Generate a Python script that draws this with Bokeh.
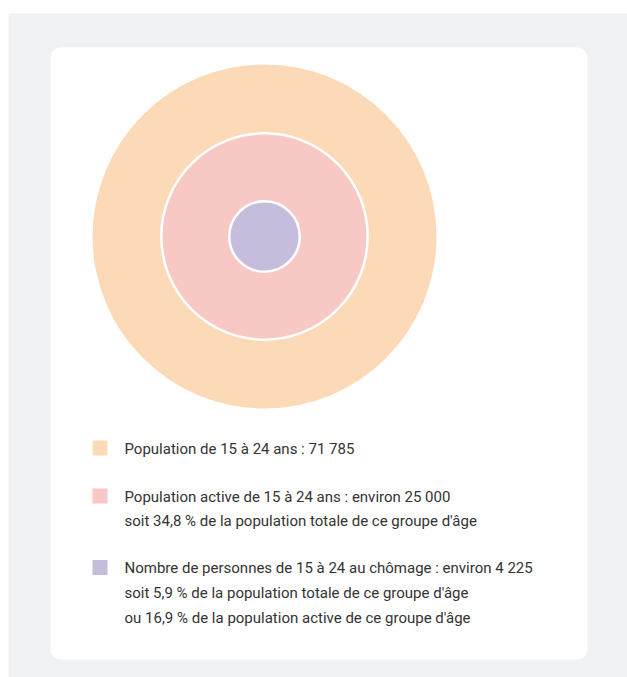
from bokeh.plotting import figure
from bokeh.models import Range1d, BoxAnnotation, ColumnDataSource
from bokeh.embed import file_html
from bokeh.resources import INLINE
from bokeh.core.properties import value

# ---- data ----
categories = ["Population de 15 à 24 ans",
              "Population active de 15 à 24 ans",
              "Chômeurs de 15 à 24 ans"]
values = [71785, 25000, 4225]
legend_labels = [
    "Population de 15 à 24 ans : 71 785",
    "Population active de 15 à 24 ans : environ 25 000\nsoit 34,8 % de la population totale de ce groupe d'âge",
    "Nombre de personnes de 15 à 24 au chômage : environ 4 225\nsoit 5,9 % de la population totale de ce groupe d'âge\nou 16,9 % de la population active de ce groupe d'âge",
]

# ---- style ----
colors = ["#FCDAB8", "#F8C8C5", "#C6BDDD"]
ring_scale = [1.0, 0.60, 0.205]   # displayed relative radius of each disc
R = 172
CX, CY = 264, 236
FONT = "Roboto"
FS = 15

W, H = 627, 677
p = figure(width=W, height=H, x_range=Range1d(0, W), y_range=Range1d(H, 0),
           output_backend="svg", toolbar_location=None, min_border=0)
p.axis.visible = False
p.grid.visible = False
p.outline_line_color = None
p.background_fill_color = "white"
p.border_fill_color = "white"

p.add_layout(BoxAnnotation(left=8, right=W, top=13, bottom=H, fill_color="#F1F2F4",
                           fill_alpha=1, line_color=None, level="underlay"))
p.add_layout(BoxAnnotation(left=50, right=587, top=47, bottom=659, fill_color="white",
                           fill_alpha=1, line_color=None, border_radius=10, level="underlay"))

src = ColumnDataSource(dict(
    x=[CX] * 3, y=[CY] * 3,
    r=[R * s for s in ring_scale],
    color=colors,
    lw=[0, 2.5, 2.5],
    name=categories, value=values,
))
p.circle(x="x", y="y", radius="r", fill_color="color", line_color="white",
         line_width="lw", source=src)

# legend
ys = []
y = 447.5
for lab in legend_labels:
    ys.append(y)
    y += 48 + 23.5 * (lab.count("\n"))
leg = ColumnDataSource(dict(x=[99.5] * 3, y=ys, color=colors,
                            tx=[124] * 3, ty=[v - 8.5 for v in ys], label=legend_labels))
p.rect(x="x", y="y", width=15, height=15, fill_color="color", line_color=None, source=leg)
p.text(x="tx", y="ty", text="label", text_font=value(FONT), text_font_size=f"{FS}px",
       text_color="#333333", text_baseline="top", text_align="left",
       text_line_height=1.38, source=leg)

open("out.html", "w").write(file_html(p, INLINE))
